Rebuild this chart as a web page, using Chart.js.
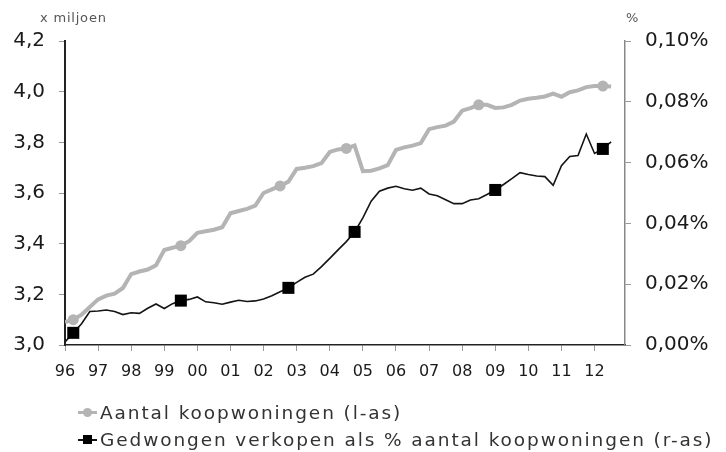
<!DOCTYPE html>
<html>
<head>
<meta charset="utf-8">
<script src="https://cdn.jsdelivr.net/npm/chart.js@4.4.1/dist/chart.umd.min.js"></script>
<style>
  html, body { margin: 0; padding: 0; background: #fff; }
  #wrap { position: relative; width: 726px; height: 452px; font-family: "DejaVu Sans", Verdana, sans-serif; color: #333; }
  #chart { position: absolute; left: 0; top: 0; }
  .unit { position: absolute; top: 10px; font-size: 13px; color: #555; letter-spacing: 0.8px; }
  #legend { position: absolute; left: 78px; top: 399px; font-size: 18.5px; letter-spacing: 1.9px; color: #333; }
  .item { height: 27px; line-height: 27px; display: flex; align-items: center; white-space: nowrap; }
  .sym { position: relative; width: 19px; height: 12px; margin-right: 3px; }
  .sym .ln { position: absolute; left: 0; right: 0; top: 50%; }
  .sym .mk { position: absolute; left: 50%; top: 50%; width: 9px; height: 9px; margin: -4.5px 0 0 -4.5px; }
</style>
</head>
<body>
<div id="wrap">
  <canvas id="chart" width="726" height="452"></canvas>
  <span class="unit" style="left:40px">x miljoen</span>
  <span class="unit" style="left:626px">%</span>
  <div id="legend"></div>
</div>
<script>
// quarterly data, first quarter of 1996 up to Q3 2012
var startYear = 1996;

// Aantal koopwoningen, x miljoen (left axis)
var aantal = [
  3.09, 3.10, 3.12, 3.15,
  3.18, 3.195, 3.203, 3.225,
  3.28, 3.29, 3.298, 3.315,
  3.375, 3.384, 3.392, 3.41,
  3.443, 3.449, 3.455, 3.465,
  3.52, 3.529, 3.537, 3.55,
  3.60, 3.614, 3.628, 3.645,
  3.695, 3.70, 3.706, 3.718,
  3.762, 3.772, 3.776, 3.787,
  3.686, 3.688, 3.697, 3.71,
  3.77, 3.78, 3.787, 3.797,
  3.852, 3.86, 3.866, 3.882,
  3.925, 3.935, 3.948, 3.948,
  3.936, 3.938, 3.948, 3.965,
  3.972, 3.976, 3.981, 3.992,
  3.98, 3.998, 4.005, 4.018,
  4.022, 4.022, 4.02
];

// Gedwongen verkopen als % aantal koopwoningen (right axis, in %)
var gedwongen = [
  0.0010, 0.0040, 0.0070, 0.0110,
  0.0112, 0.0115, 0.0110, 0.0100,
  0.0106, 0.0104, 0.0121, 0.0135,
  0.0120, 0.0136, 0.0146, 0.0150,
  0.0158, 0.0142, 0.0139, 0.0134,
  0.0141, 0.0147, 0.0143, 0.0145,
  0.0151, 0.0162, 0.0175, 0.0188,
  0.0206, 0.0223, 0.0233, 0.0258,
  0.0285, 0.0313, 0.0340, 0.0372,
  0.0418, 0.0473, 0.0506, 0.0516,
  0.0522, 0.0514, 0.0509, 0.0516,
  0.0497, 0.0491, 0.0478, 0.0465,
  0.0465, 0.0477, 0.0481, 0.0495,
  0.0510, 0.0528, 0.0547, 0.0567,
  0.0561, 0.0556, 0.0554, 0.0525,
  0.0590, 0.0620, 0.0623, 0.0694,
  0.0630, 0.0645, 0.0668
];

// which quarters carry a marker
var aantalMarkers = [1, 14, 26, 34, 50, 65];
var gedwongenMarkers = [1, 14, 27, 35, 52, 65];

var yearTicks = [1996, 1997, 1998, 1999, 2000, 2001, 2002, 2003, 2004, 2005, 2006, 2007, 2008, 2009, 2010, 2011, 2012];
var yearLabels = ['96', '97', '98', '99', '00', '01', '02', '03', '04', '05', '06', '07', '08', '09', '10', '11', '12'];
var leftTicks = [3.0, 3.2, 3.4, 3.6, 3.8, 4.0, 4.2];
var rightTicks = [0, 0.02, 0.04, 0.06, 0.08, 0.10];

var seriesNames = ['Aantal koopwoningen (l-as)', 'Gedwongen verkopen als % aantal koopwoningen (r-as)'];

function toPoints(values) {
  return values.map(function(v, i) { return { x: startYear + i / 4, y: v }; });
}
function markerRadius(values, idx, r) {
  return values.map(function(v, i) { return idx.indexOf(i) >= 0 ? r : 0; });
}
function comma(v, d) { return v.toFixed(d).replace('.', ','); }

var GRAY = '#b4b4b4';
var BLACK = '#141414';

new Chart(document.getElementById('chart'), {
  type: 'line',
  data: {
    datasets: [{
      label: seriesNames[0],
      data: toPoints(aantal),
      yAxisID: 'yL',
      borderColor: GRAY,
      backgroundColor: GRAY,
      borderWidth: 4,
      pointStyle: 'circle',
      pointRadius: markerRadius(aantal, aantalMarkers, 5.5),
      pointBorderWidth: 0,
      tension: 0,
      order: 1
    }, {
      label: seriesNames[1],
      data: toPoints(gedwongen),
      yAxisID: 'yR',
      borderColor: BLACK,
      backgroundColor: '#000',
      borderWidth: 1.6,
      pointStyle: 'rect',
      pointRadius: markerRadius(gedwongen, gedwongenMarkers, 8.5),
      pointBorderWidth: 0,
      tension: 0,
      order: 0
    }]
  },
  options: {
    responsive: false,
    animation: false,
    devicePixelRatio: 1,
    layout: { padding: { top: 41, left: 0, right: 0, bottom: 0 } },
    plugins: {
      legend: { display: false },
      tooltip: { enabled: false }
    },
    scales: {
      x: {
        type: 'linear',
        min: 1996,
        max: 2012.92,
        afterFit: function(s) { s.height = 107; },
        afterBuildTicks: function(s) { s.ticks = yearTicks.map(function(v) { return { value: v }; }); },
        border: { color: '#222', width: 1.5 },
        grid: { drawOnChartArea: false, tickLength: 6, color: '#999', lineWidth: 1 },
        ticks: {
          autoSkip: false, maxRotation: 0, padding: 11,
          color: '#1a1a1a',
          font: { family: 'DejaVu Sans', size: 16 },
          callback: function(v, i) { return yearLabels[i]; }
        }
      },
      yL: {
        position: 'left',
        min: 3.0,
        max: 4.2,
        afterFit: function(s) { s.width = 65; },
        afterBuildTicks: function(s) { s.ticks = leftTicks.map(function(v) { return { value: v }; }); },
        border: { color: '#222', width: 2 },
        grid: { drawOnChartArea: false, tickLength: 6, color: '#999', lineWidth: 1 },
        ticks: {
          padding: 14, color: '#1a1a1a',
          font: { family: 'DejaVu Sans', size: 20 },
          callback: function(v) { return comma(v, 1); }
        }
      },
      yR: {
        position: 'right',
        min: 0,
        max: 0.1,
        afterFit: function(s) { s.width = 101; },
        afterBuildTicks: function(s) { s.ticks = rightTicks.map(function(v) { return { value: v }; }); },
        border: { color: '#888', width: 1.5 },
        grid: { drawOnChartArea: false, tickLength: 6, color: '#999', lineWidth: 1 },
        ticks: {
          padding: 14, color: '#1a1a1a',
          font: { family: 'DejaVu Sans', size: 20 },
          callback: function(v) { return comma(v, 2) + '%'; }
        }
      }
    }
  }
});

// legend below the chart
var legend = document.getElementById('legend');
legend.innerHTML =
  '<div class="item"><span class="sym"><span class="ln" style="height:3px;margin-top:-1.5px;background:' + GRAY + '"></span>' +
  '<span class="mk" style="border-radius:50%;background:' + GRAY + '"></span></span>' + seriesNames[0] + '</div>' +
  '<div class="item"><span class="sym"><span class="ln" style="height:2px;margin-top:-1px;background:' + BLACK + '"></span>' +
  '<span class="mk" style="background:#000"></span></span>' + seriesNames[1] + '</div>';
</script>
</body>
</html>
